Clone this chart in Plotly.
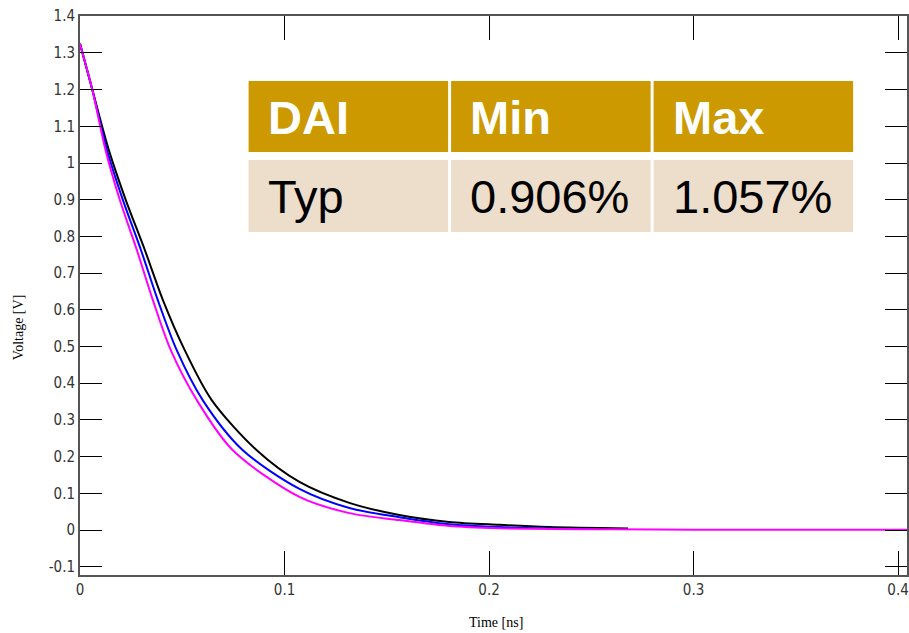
import plotly.graph_objects as go

# ---- data ----
t_black = [0.0, 0.006, 0.0141, 0.0224, 0.0317, 0.0405, 0.0512, 0.0644, 0.0863, 0.1073,
           0.1317, 0.1561, 0.1805, 0.2049, 0.2293, 0.268]
v_black = [1.325, 1.20, 1.035, 0.899, 0.763, 0.627, 0.490, 0.354, 0.218, 0.131,
           0.074, 0.041, 0.022, 0.014, 0.008, 0.004]

t_blue = [0.0, 0.006, 0.0132, 0.021, 0.0298, 0.038, 0.0473, 0.060, 0.0795, 0.1073,
          0.1317, 0.1561, 0.1805, 0.2049, 0.229, 0.25]
v_blue = [1.325, 1.20, 1.035, 0.899, 0.763, 0.627, 0.490, 0.354, 0.218, 0.112,
          0.060, 0.035, 0.016, 0.008, 0.004, 0.003]

t_mag = [0.0, 0.006, 0.0125, 0.0195, 0.0278, 0.0356, 0.0444, 0.0571, 0.0746, 0.1073,
         0.1317, 0.1561, 0.1805, 0.2049, 0.229, 0.26, 0.30, 0.35, 0.41]
v_mag = [1.325, 1.20, 1.035, 0.899, 0.763, 0.627, 0.490, 0.354, 0.218, 0.090,
         0.046, 0.027, 0.011, 0.005, 0.003, 0.002, 0.001, 0.001, 0.001]

x_ticks = [0, 0.1, 0.2, 0.3, 0.4]
x_ticktext = ["0", "0.1", "0.2", "0.3", "0.4"]
y_ticks = [-0.1, 0, 0.1, 0.2, 0.3, 0.4, 0.5, 0.6, 0.7, 0.8, 0.9, 1.0, 1.1, 1.2, 1.3, 1.4]
y_ticktext = ["-0.1", "0", "0.1", "0.2", "0.3", "0.4", "0.5", "0.6", "0.7", "0.8",
              "0.9", "1", "1.1", "1.2", "1.3", "1.4"]

table_header = ["DAI", "Min", "Max"]
table_row = ["Typ", "0.906%", "1.057%"]

# ---- figure ----
W, H = 909, 633
L, R, T, B = 80, 0, 16, 58
plot_w = W - L - R
plot_h = H - T - B


def px_x(px):
    return (px - L) / plot_w


def px_y(py):
    return (H - B - py) / plot_h


fig = go.Figure()
for t, v, c in [(t_black, v_black, "#000000"), (t_blue, v_blue, "#0000FF"), (t_mag, v_mag, "#FF00FF")]:
    fig.add_trace(go.Scatter(x=t, y=v, mode="lines", line=dict(color=c, width=2, shape="spline", smoothing=0.85),
                             showlegend=False, hoverinfo="skip"))

tick_font = dict(family="Liberation Sans Narrow, DejaVu Sans Condensed, sans-serif", size=15, color="#333333")

fig.update_xaxes(range=[0, plot_w / 2050.0], tickvals=x_ticks, ticktext=x_ticktext,
                 ticks="inside", ticklen=24, tickcolor="#000000", tickwidth=1,
                 showline=True, linecolor="#555555", linewidth=2, mirror="ticks",
                 showgrid=False, zeroline=False, tickfont=tick_font)
fig.update_yaxes(range=[-(575 - 530) / 367.0, 1.4 + (16.2 - 16) / 367.0], tickvals=y_ticks, ticktext=y_ticktext,
                 ticks="inside", ticklen=22, tickcolor="#000000", tickwidth=1,
                 showline=True, linecolor="#555555", linewidth=2, mirror="ticks",
                 showgrid=False, zeroline=False, tickfont=tick_font)

# table cells
hdr_color = "#CC9900"
row_color = "#EDDDCB"
cols = [(249, 449), (452, 652), (655, 855)]
for i, (x0, x1) in enumerate(cols):
    fig.add_shape(type="rect", xref="paper", yref="paper", x0=px_x(x0), x1=px_x(x1),
                  y0=px_y(152), y1=px_y(81), fillcolor=hdr_color, line=dict(width=0), layer="above")
    fig.add_shape(type="rect", xref="paper", yref="paper", x0=px_x(x0), x1=px_x(x1),
                  y0=px_y(232), y1=px_y(160), fillcolor=row_color, line=dict(width=0), layer="above")
    fig.add_annotation(xref="paper", yref="paper", x=px_x(x0 + 17), y=px_y(118), xanchor="left",
                       yanchor="middle", showarrow=False, text="<b>%s</b>" % table_header[i],
                       font=dict(family="Liberation Sans, Arial, sans-serif", size=47, color="#FFFFFF"))
    fig.add_annotation(xref="paper", yref="paper", x=px_x(x0 + 17), y=px_y(196), xanchor="left",
                       yanchor="middle", showarrow=False, text=table_row[i],
                       font=dict(family="Liberation Sans, Arial, sans-serif", size=47, color="#000000"))

# axis titles
fig.add_annotation(xref="paper", yref="paper", x=px_x(497), y=px_y(622), xanchor="center", yanchor="middle",
                   showarrow=False, text="Time [ns]",
                   font=dict(family="Liberation Serif, Times New Roman, serif", size=14, color="#000000"))
fig.add_annotation(xref="paper", yref="paper", x=px_x(18), y=px_y(328), xanchor="center", yanchor="middle",
                   showarrow=False, text="Voltage [V]", textangle=-90,
                   font=dict(family="Liberation Serif, Times New Roman, serif", size=14, color="#000000"))

fig.update_layout(width=W, height=H, margin=dict(l=L, r=R, t=T, b=B),
                  paper_bgcolor="#FFFFFF", plot_bgcolor="#FFFFFF")

fig.write_html("out.html")
